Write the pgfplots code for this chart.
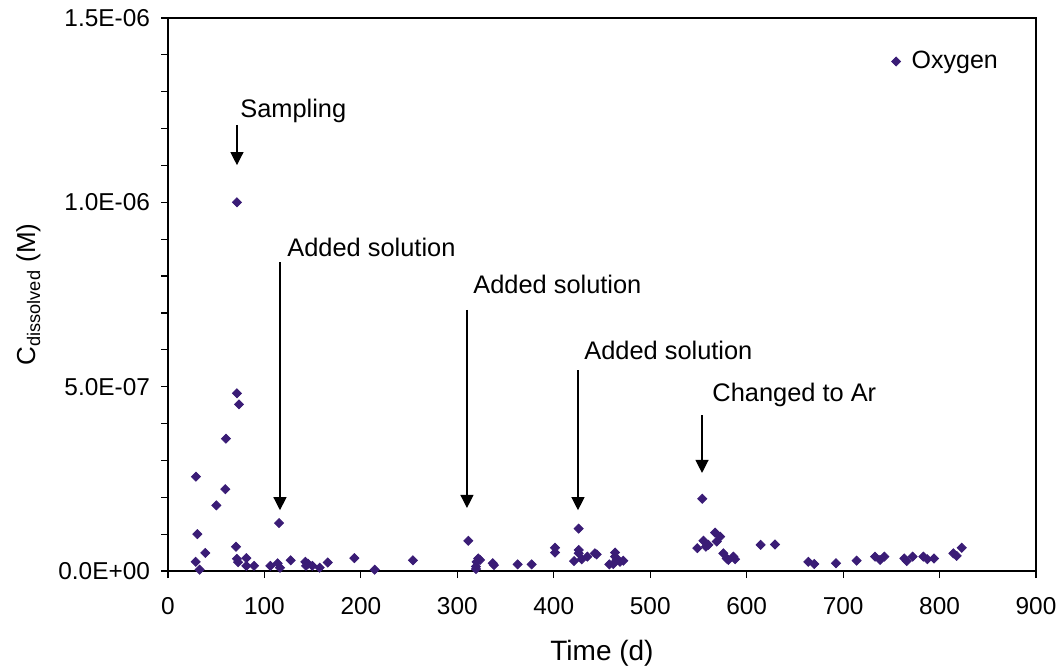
\documentclass[border=0pt]{standalone}
\usepackage{fontspec}
\setmainfont{Liberation Sans}
\usepackage{pgfplots}
\pgfplotsset{compat=1.18}
\usetikzlibrary{arrows.meta}
\definecolor{oxy}{RGB}{58,28,118}
\begin{document}
\begin{tikzpicture}
\begin{axis}[
  scale only axis,
  width=434pt, height=276.5pt,
  xmin=0, xmax=900, ymin=0, ymax=1.5e-6,
  xtick={0,100,...,900},
  ytick={0,5e-7,1e-6,1.5e-6},
  yticklabels={0.0E+00,5.0E-07,1.0E-06,1.5E-06},
  scaled y ticks=false,
  minor y tick num=4,
  tick align=outside,
  xtick pos=left, ytick pos=left,
  major tick length=3.5pt, minor tick length=3.5pt,
  tick style={black, line width=0.6pt},
  axis line style={line width=0.6pt},
  /pgf/number format/assume math mode=true,
  ticklabel style={font=\fontsize{12.2}{14}\selectfont},
  xticklabel style={yshift=-6pt},
  yticklabel style={xshift=-2pt},
  xlabel={Time (d)},
  ylabel={C\textsubscript{dissolved} (M)},
  xlabel style={font=\fontsize{14}{16}\selectfont, yshift=-6pt},
  ylabel style={font=\fontsize{13}{15}\selectfont, yshift=2pt},
  legend style={at={(0.968,0.955)}, anchor=north east, draw=none, fill=none, font=\fontsize{12.5}{14}\selectfont},
  legend cell align=left,
]
\addplot[only marks, mark=square*, mark size=1.6pt, color=oxy, every mark/.append style={rotate=45}] coordinates {
(29.0,2.56e-7) (30.4,1.00e-7) (28.7,2.5e-8) (32.8,3.6e-9) (38.7,4.9e-8)
(50.1,1.78e-7) (59.4,2.22e-7) (60.1,3.59e-7) (70.5,6.6e-8) (71.5,3.3e-8)
(72.6,2.4e-8) (71.5,1.0e-6) (71.5,4.82e-7) (73.6,4.52e-7) (81.2,3.5e-8)
(81.2,1.4e-8) (89.2,1.4e-8) (106.1,1.4e-8) (113.7,2.1e-8) (115.1,1.30e-7)
(116.1,9e-9) (127.2,2.9e-8) (142.4,2.5e-8) (143.1,1.4e-8) (145.2,2.0e-8)
(149.6,1.4e-8) (157.3,9e-9) (165.6,2.3e-8) (193.2,3.5e-8) (214.3,3.6e-9)
(254.0,2.9e-8) (311.4,8.2e-8) (319.3,5.4e-9) (319.3,1.2e-8) (320.0,2.5e-8)
(321.7,3.4e-8) (323.5,3.0e-8) (336.7,2.1e-8) (338.0,1.6e-8) (362.6,1.8e-8)
(377.1,1.8e-8) (401.3,6.3e-8) (401.3,5.0e-8) (421.0,2.7e-8) (425.8,1.15e-7)
(425.8,5.7e-8) (425.8,4.8e-8) (429.0,3.2e-8) (434.8,3.9e-8) (442.7,4.8e-8)
(444.5,4.5e-8) (457.6,1.8e-8) (461.7,1.9e-8) (463.5,5.0e-8) (463.5,3.9e-8)
(465.2,3.0e-8) (468.7,2.5e-8) (472.1,2.8e-8) (548.8,6.2e-8) (554.0,1.96e-7)
(555.2,8.2e-8) (557.8,6.6e-8) (560.4,7.1e-8) (567.3,1.04e-7) (569.0,8.0e-8)
(572.5,9.3e-8) (575.8,4.8e-8) (579.3,3.4e-8) (581.0,3.0e-8) (586.2,3.9e-8)
(588.0,3.2e-8) (614.5,7.1e-8) (629.4,7.2e-8) (663.9,2.5e-8) (670.1,1.9e-8)
(692.6,2.1e-8) (714.0,2.8e-8) (733.1,3.9e-8) (738.3,3.0e-8) (742.7,3.9e-8)
(763.5,3.4e-8) (765.9,2.7e-8) (772.1,3.9e-8) (783.2,3.9e-8) (787.3,3.2e-8)
(794.3,3.4e-8) (814.3,4.8e-8) (817.8,4.1e-8) (823.0,6.3e-8)
};
\addlegendentry{\hspace{3.5pt}Oxygen}
\tikzset{arr/.style={-{Triangle[width=6.5pt,length=6.5pt]}, line width=0.6pt},
  ann/.style={anchor=west, inner sep=0pt, font=\fontsize{12.7}{14}\selectfont}}
\draw[arr] (axis cs:71.5,1.21e-6) -- (axis cs:71.5,1.101e-6);
\node[ann] at (axis cs:74.6,1.248e-6) {Sampling};
\draw[arr] (axis cs:116.1,8.38e-7) -- (axis cs:116.1,1.65e-7);
\node[ann] at (axis cs:123.4,8.79e-7) {Added solution};
\draw[arr] (axis cs:310.0,7.08e-7) -- (axis cs:310.0,1.71e-7);
\node[ann] at (axis cs:316.2,7.76e-7) {Added solution};
\draw[arr] (axis cs:425.1,5.45e-7) -- (axis cs:425.1,1.65e-7);
\node[ann] at (axis cs:431.3,5.97e-7) {Added solution};
\draw[arr] (axis cs:553.7,4.23e-7) -- (axis cs:553.7,2.66e-7);
\node[ann] at (axis cs:564.1,4.77e-7) {Changed to Ar};
\coordinate (bl) at (rel axis cs:0,0);
\coordinate (tr) at (rel axis cs:1,1);
\end{axis}
\pgfresetboundingbox
\path[use as bounding box] ([xshift=-84pt,yshift=-49pt]bl) rectangle ([xshift=11.5pt,yshift=9pt]tr);
\end{tikzpicture}
\end{document}
